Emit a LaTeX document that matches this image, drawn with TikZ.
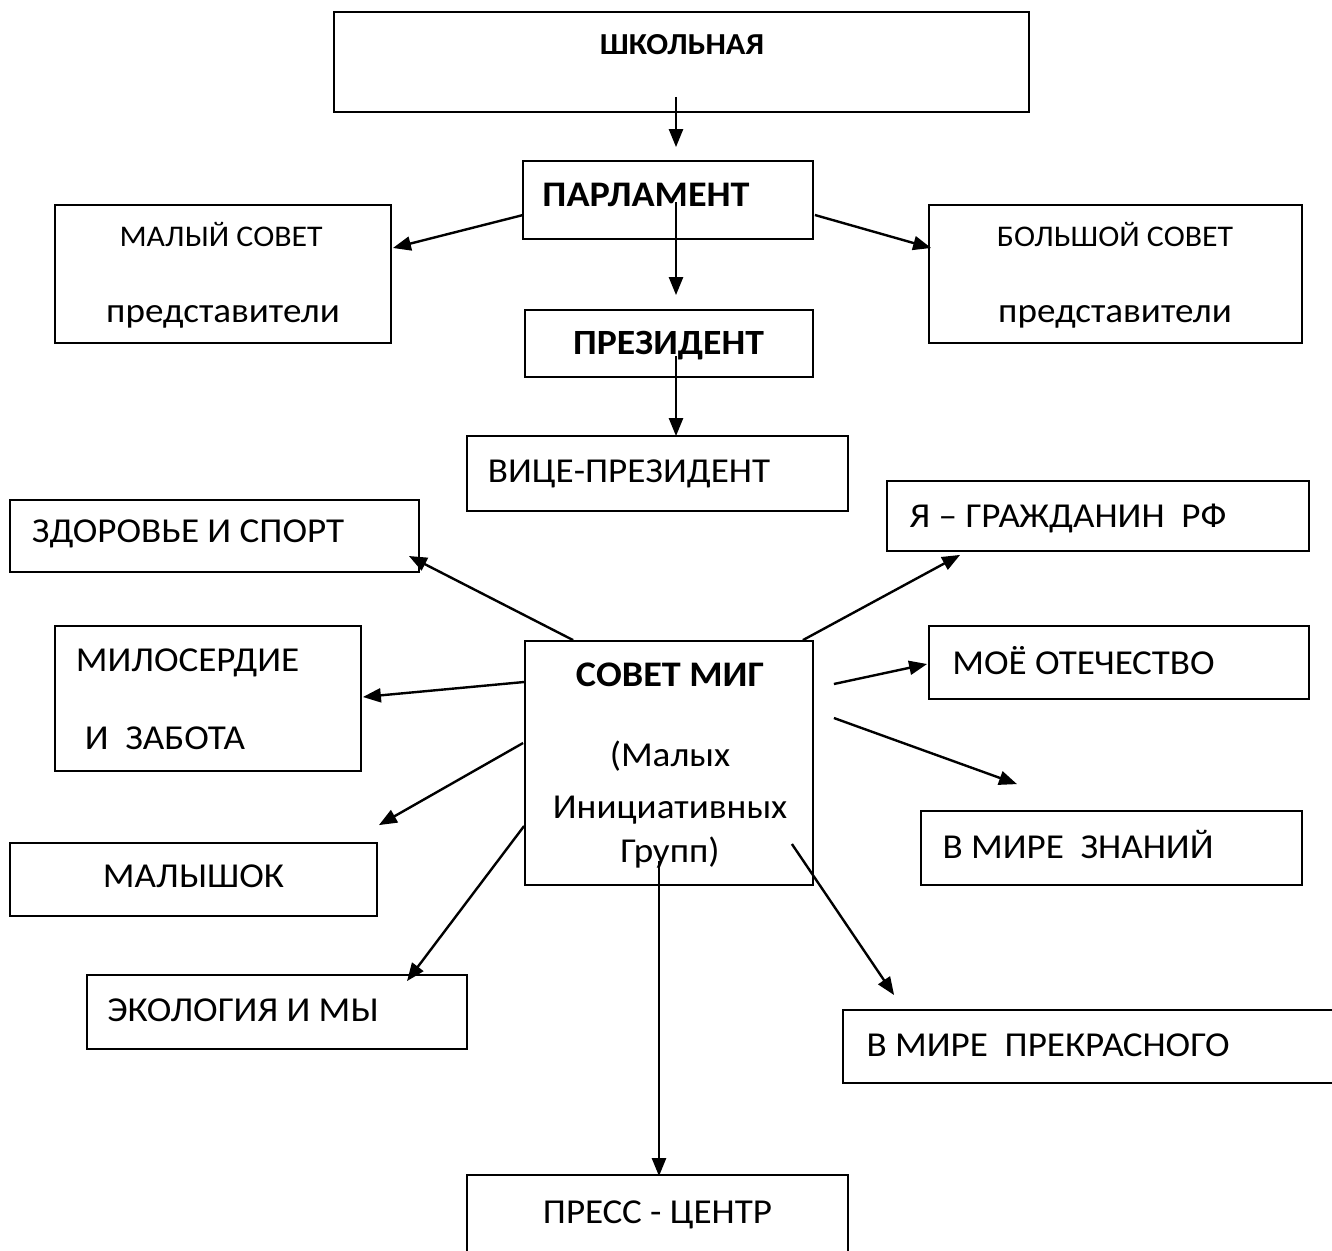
\documentclass[tikz,border=0pt]{standalone}
\usepackage{fontspec}
\setmainfont{Carlito}[FakeStretch=1.06]
\usetikzlibrary{arrows.meta,calc}
\newcommand\myfs[1]{\fontsize{#1}{#1}\selectfont}
\begin{document}
\begin{tikzpicture}[x=1pt,y=-1pt,
  box/.style={draw,line width=1.8pt,inner sep=0pt},
  txt/.style={inner sep=0pt,anchor=base,font=\myfs{35}},
  small/.style={inner sep=0pt,anchor=base,font=\myfs{30}},
  arr/.style={line width=2.4pt,-{Triangle[length=18pt,width=14pt]}}]
\useasboundingbox (0,0) rectangle (1332,1250);
\fill[white] (0,0) rectangle (1332,1250);
% boxes
\node[box,minimum width=695pt,minimum height=100pt] (shk) at (681.5,62) {};
\node[box,minimum width=290pt,minimum height=78pt] (parl) at (668,200) {};
\node[box,minimum width=336pt,minimum height=138pt] (malyi) at (223,274) {};
\node[box,minimum width=373pt,minimum height=138pt] (bolsh) at (1115.5,274) {};
\node[box,minimum width=288pt,minimum height=67pt] (pres) at (669,343.5) {};
\node[box,minimum width=381pt,minimum height=75pt] (vice) at (657.5,473.5) {};
\node[box,minimum width=409pt,minimum height=72pt] (zdor) at (214.5,536) {};
\node[box,minimum width=422pt,minimum height=70pt] (grazh) at (1098,516) {};
\node[box,minimum width=288pt,minimum height=244pt] (mig) at (669,763) {};
\node[box,minimum width=306pt,minimum height=145pt] (milo) at (208,698.5) {};
\node[box,minimum width=380pt,minimum height=73pt] (otech) at (1119,662.5) {};
\node[box,minimum width=381pt,minimum height=74pt] (znan) at (1111.5,848) {};
\node[box,minimum width=367pt,minimum height=73pt] (malysh) at (193.5,879.5) {};
\node[box,minimum width=380pt,minimum height=74pt] (ekol) at (277,1012) {};
\node[box,minimum width=502pt,minimum height=73pt] (prekr) at (1094,1046.5) {};
\node[box,minimum width=381pt,minimum height=87pt] (press) at (657.5,1218.5) {};
% texts
\node[small,font=\myfs{30.5}\bfseries] (tshk) at (682,54) {ШКОЛЬНАЯ};
\node[txt,font=\myfs{36}\bfseries] (tparl) at (646,206.5) {ПАРЛАМЕНТ};
\node[small] (tmalyi1) at (221,246) {МАЛЫЙ СОВЕТ};
\node[txt] (tmalyi2) at (223,322.5) {представители};
\node[small] (tbolsh1) at (1115,246) {БОЛЬШОЙ СОВЕТ};
\node[txt] (tbolsh2) at (1115,322.5) {представители};
\node[txt,font=\myfs{35.5}\bfseries] (tpres) at (668.5,354.5) {ПРЕЗИДЕНТ};
\node[txt] (tvice) at (629,482) {ВИЦЕ-ПРЕЗИДЕНТ};
\node[txt] (tzdor) at (188,542.5) {ЗДОРОВЬЕ И СПОРТ};
\node[txt] (tgrazh) at (1068,527) {Я – ГРАЖДАНИН~ РФ};
\node[txt] (tmilo1) at (187.5,671) {МИЛОСЕРДИЕ};
\node[txt] (tmilo2) at (165,749) {И~ ЗАБОТА};
\node[txt] (totech) at (1083.5,674) {МОЁ ОТЕЧЕСТВО};
\node[txt,font=\myfs{36}\bfseries] (tmig1) at (670,686) {СОВЕТ МИГ};
\node[txt] (tmig2) at (670,766.5) {(Малых};
\node[txt] (tmig3) at (670,818) {Инициативных};
\node[txt] (tmig4) at (670,862) {Групп)};
\node[txt] (tznan) at (1078,858) {В МИРЕ~ ЗНАНИЙ};
\node[txt] (tmalysh) at (193.5,887.5) {МАЛЫШОК};
\node[txt] (tekol) at (243,1021) {ЭКОЛОГИЯ И МЫ};
\node[txt] (tprekr) at (1048,1056) {В МИРЕ~ ПРЕКРАСНОГО};
\node[txt] (tpress) at (657.5,1223) {ПРЕСС - ЦЕНТР};
% connectors
\draw[arr] ($(shk.south)+(-5.5,-16)$) -- ($(parl.north)+(8,-13)$);
\draw[arr] ($(parl.west)+(1,15)$) -- ($(malyi.east)+(1,-26)$);
\draw[arr] ($(parl.east)+(1,15)$) -- ($(bolsh.west)+(3,-26)$);
\draw[arr] ($(parl.center)+(8,2)$) -- ($(pres.north)+(7,-14)$);
\draw[arr] ($(pres.center)+(7,12.5)$) -- ($(vice.north)+(18.5,1)$);
\draw[arr] ($(mig.north west)+(49,0)$) -- ($(zdor.east)+(-11,20)$);
\draw[arr] ($(mig.north east)+(-11,0)$) -- ($(grazh.south west)+(74,3)$);
\draw[arr] ($(mig.west)+(0,-81)$) -- ($(milo.east)+(1,-1.5)$);
\draw[arr] ($(mig.east)+(20,-79)$) -- ($(otech.west)+(-1,1.5)$);
\draw[arr] ($(mig.east)+(20,-45)$) -- ($(znan.north)+(-94.5,-26)$);
\draw[arr] ($(mig.west)+(-1,-20)$) -- ($(malysh.north east)+(1,-17)$);
\draw[arr] ($(mig.west)+(0,63)$) -- ($(ekol.north)+(130,7)$);
\draw[arr] ($(mig.east)+(-22,81)$) -- ($(prekr.north west)+(52,-14)$);
\draw[arr] ($(mig.south)+(-10,-25)$) -- ($(press.north)+(1.5,2)$);
\end{tikzpicture}
\end{document}
